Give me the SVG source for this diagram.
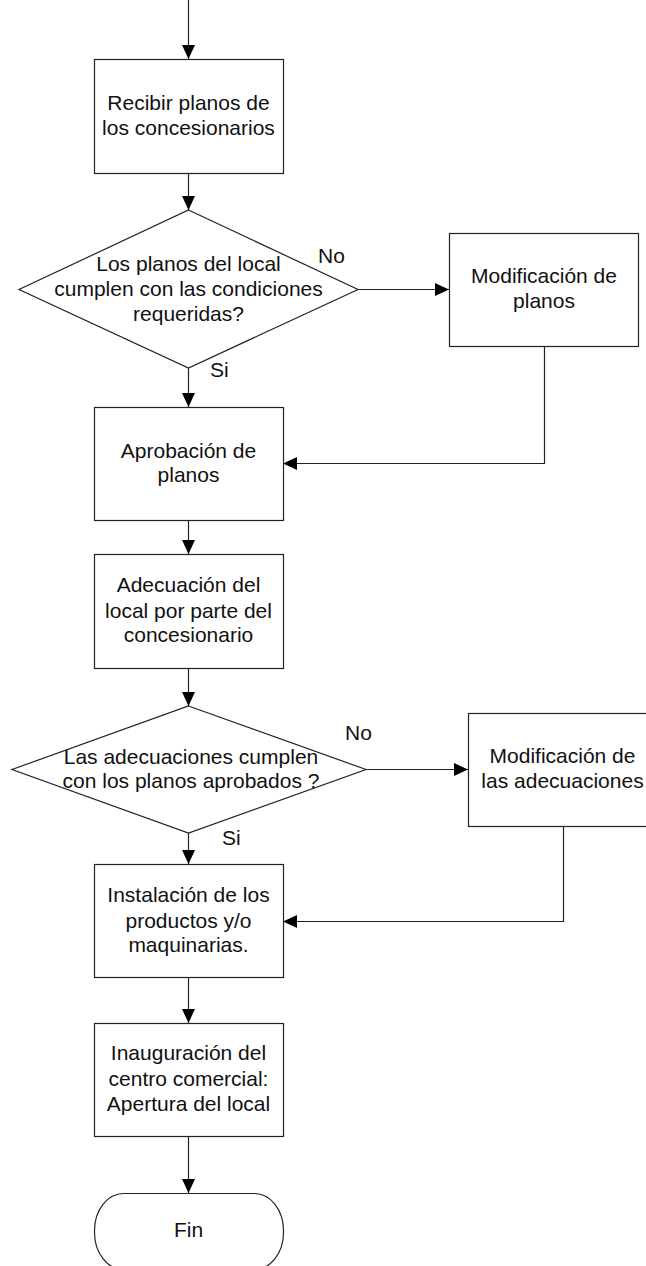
<svg xmlns="http://www.w3.org/2000/svg" width="646" height="1266" viewBox="0 0 646 1266">
<style>
.n{fill:#fff;stroke:#222;stroke-width:1.2}
.t{font-family:"Liberation Sans",Arial,sans-serif;font-size:21px;fill:#111;text-anchor:middle}
.l{font-family:"Liberation Sans",Arial,sans-serif;font-size:21px;fill:#111}
.c{fill:none;stroke:#222;stroke-width:1.2}
</style>
<defs>
<marker id="ah" markerWidth="14" markerHeight="13" refX="14" refY="6.5" orient="auto" markerUnits="userSpaceOnUse">
<path d="M0,0 L14,6.5 L0,13 z" fill="#000"/>
</marker>
</defs>
<g id="connectors">
<path class="c" d="M188.5,0 V59" marker-end="url(#ah)"/>
<path class="c" d="M188.5,173 V210" marker-end="url(#ah)"/>
<path class="c" d="M358,289.5 H449" marker-end="url(#ah)"/>
<path class="c" d="M188.5,368 V407" marker-end="url(#ah)"/>
<path class="c" d="M544.5,346 V463.5 H283" marker-end="url(#ah)"/>
<path class="c" d="M188.5,520 V554" marker-end="url(#ah)"/>
<path class="c" d="M188.5,668 V706" marker-end="url(#ah)"/>
<path class="c" d="M366,769.5 H468" marker-end="url(#ah)"/>
<path class="c" d="M188.5,833 V864" marker-end="url(#ah)"/>
<path class="c" d="M563.5,826 V921.5 H283" marker-end="url(#ah)"/>
<path class="c" d="M188.5,977 V1023" marker-end="url(#ah)"/>
<path class="c" d="M188.5,1136 V1193" marker-end="url(#ah)"/>
<text class="l" x="318" y="263">No</text>
<text class="l" x="210" y="377">Si</text>
<text class="l" x="345" y="740">No</text>
<text class="l" x="222" y="845">Si</text>
</g>
<g id="recibir">
<rect class="n" x="94.5" y="59.5" width="189" height="114"/>
<text class="t" x="188.5" y="110">Recibir planos de</text>
<text class="t" x="188.5" y="135">los concesionarios</text>
</g>
<g id="decision1">
<polygon class="n" points="188.5,210 358,289.5 188.5,368 19,289.5"/>
<text class="t" x="188.5" y="271">Los planos del local</text>
<text class="t" x="188.5" y="296">cumplen con las condiciones</text>
<text class="t" x="188.5" y="321">requeridas?</text>
</g>
<g id="modif-planos">
<rect class="n" x="449.5" y="233.5" width="189" height="113"/>
<text class="t" x="544" y="283">Modificación de</text>
<text class="t" x="544" y="308">planos</text>
</g>
<g id="aprobacion">
<rect class="n" x="94.5" y="407.5" width="189" height="113"/>
<text class="t" x="188.5" y="458">Aprobación de</text>
<text class="t" x="188.5" y="482">planos</text>
</g>
<g id="adecuacion">
<rect class="n" x="94.5" y="554.5" width="189" height="114"/>
<text class="t" x="188.5" y="592">Adecuación del</text>
<text class="t" x="188.5" y="618">local por parte del</text>
<text class="t" x="188.5" y="642">concesionario</text>
</g>
<g id="decision2">
<polygon class="n" points="188.5,706 366,769.5 188.5,833 12,769.5"/>
<text class="t" x="191" y="764">Las adecuaciones cumplen</text>
<text class="t" x="191" y="788">con los planos aprobados ?</text>
</g>
<g id="modif-adecuaciones">
<rect class="n" x="468.5" y="713.5" width="189" height="113"/>
<text class="t" x="562.5" y="763">Modificación de</text>
<text class="t" x="562.5" y="788">las adecuaciones</text>
</g>
<g id="instalacion">
<rect class="n" x="94.5" y="864.5" width="189" height="113"/>
<text class="t" x="188.5" y="902">Instalación de los</text>
<text class="t" x="188.5" y="928">productos y/o</text>
<text class="t" x="188.5" y="952">maquinarias.</text>
</g>
<g id="inauguracion">
<rect class="n" x="94.5" y="1023.5" width="189" height="113"/>
<text class="t" x="188.5" y="1060">Inauguración del</text>
<text class="t" x="188.5" y="1086">centro comercial:</text>
<text class="t" x="188.5" y="1111">Apertura del local</text>
</g>
<g id="fin">
<rect class="n" x="94.5" y="1193.5" width="189" height="76" rx="29" ry="37"/>
<text class="t" x="188.5" y="1237">Fin</text>
</g>
</svg>
